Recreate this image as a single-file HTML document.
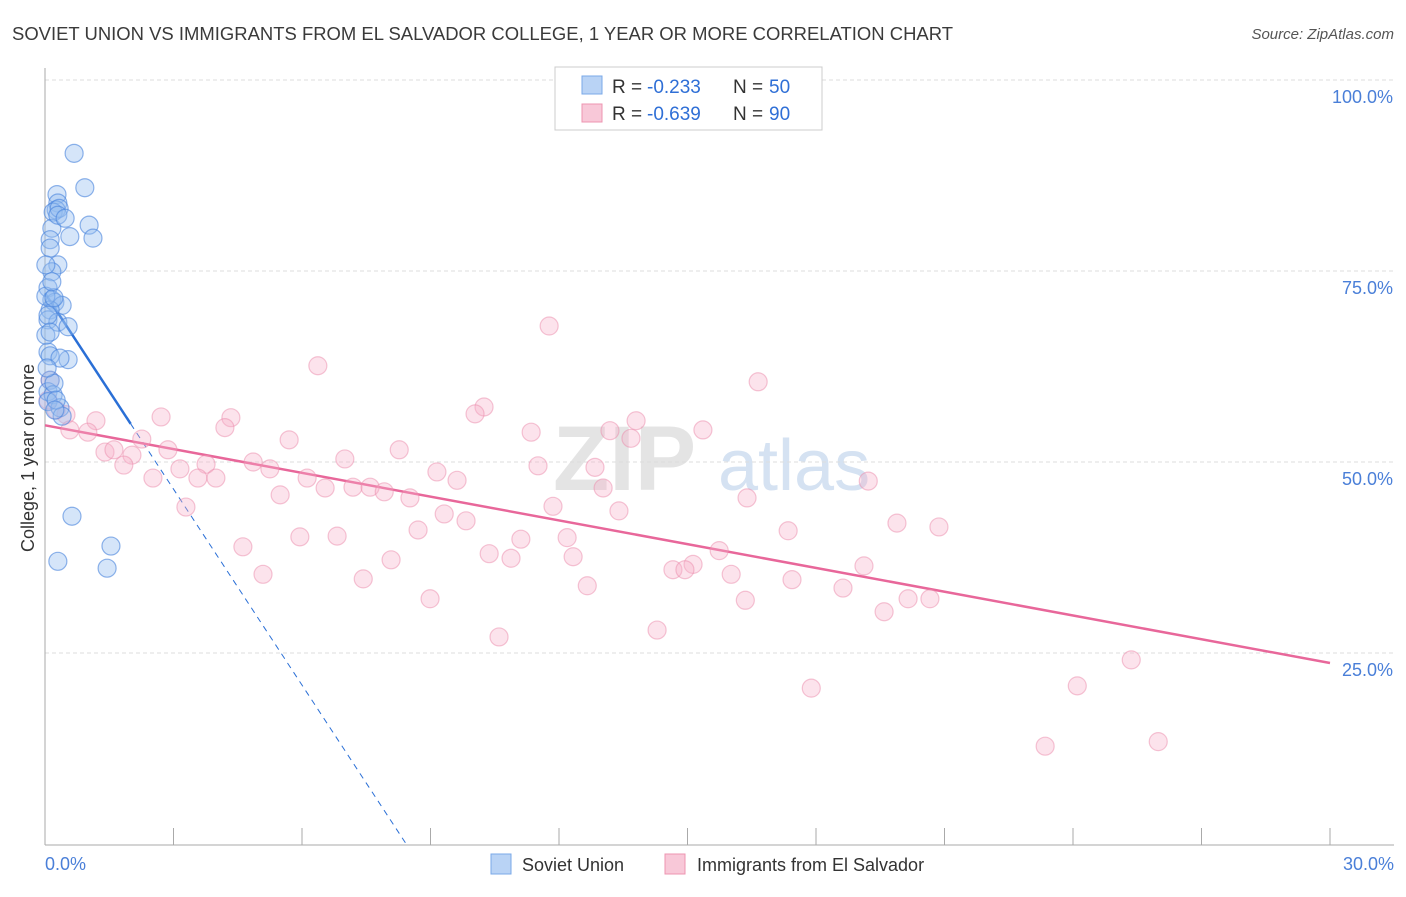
<!DOCTYPE html>
<html><head><meta charset="utf-8"><style>
body{margin:0;background:#fff;font-family:"Liberation Sans",sans-serif;}
svg text{font-family:"Liberation Sans",sans-serif;}
</style></head><body>
<svg id="chart" width="1406" height="892" xmlns="http://www.w3.org/2000/svg">
<text x="12" y="40" font-size="18" fill="#3a3a3a" textLength="941" lengthAdjust="spacingAndGlyphs">SOVIET UNION VS IMMIGRANTS FROM EL SALVADOR COLLEGE, 1 YEAR OR MORE CORRELATION CHART</text>
<text x="1394" y="39" font-size="15" fill="#555" text-anchor="end" font-style="italic">Source: ZipAtlas.com</text>
<g>
<text x="553" y="490" font-size="92" fill="#e4e4e4" font-family="Liberation Serif" font-weight="bold">ZIP</text>
<text x="718" y="490" font-size="72" fill="#d5e2f2">atlas</text>
</g>
<g id="grid"></g>
<g id="axes"></g>
<g id="trend"></g>
<g id="pts"></g>
<g>
<rect x="555" y="67" width="267" height="63" fill="#fff" stroke="#ccc"/>
<rect x="582" y="76" width="20" height="18" fill="#b9d3f5" stroke="#7aa8e8"/>
<rect x="582" y="104" width="20" height="18" fill="#f8c8d8" stroke="#ee94b0"/>
<text x="612" y="93" font-size="19" fill="#333">R = </text><text x="647" y="93" font-size="19" fill="#2f6fd6">-0.233</text>
<text x="733" y="93" font-size="19" fill="#333">N = </text><text x="769" y="93" font-size="19" fill="#2f6fd6">50</text>
<text x="612" y="120" font-size="19" fill="#333">R = </text><text x="647" y="120" font-size="19" fill="#2f6fd6">-0.639</text>
<text x="733" y="120" font-size="19" fill="#333">N = </text><text x="769" y="120" font-size="19" fill="#2f6fd6">90</text>
</g>
<g>
<rect x="491" y="854" width="20" height="20" fill="#b9d3f5" stroke="#7aa8e8"/>
<text x="522" y="871" font-size="18" fill="#333">Soviet Union</text>
<rect x="665" y="854" width="20" height="20" fill="#f8c8d8" stroke="#ee94b0"/>
<text x="697" y="871" font-size="18" fill="#333">Immigrants from El Salvador</text>
</g>
<text transform="translate(34,458) rotate(-90)" font-size="18" fill="#333" text-anchor="middle">College, 1 year or more</text>
</svg>
<script>
const sovietX=[0.68,0.93,0.28,0.30,0.26,0.19,0.33,1.03,0.16,0.58,1.12,0.12,0.12,0.30,0.16,0.07,0.16,0.23,0.40,0.12,0.07,0.30,0.54,0.07,0.12,0.54,0.35,0.12,0.07,0.19,0.07,0.35,0.40,0.63,1.54,0.30,1.45,0.02,0.21,0.02,0.07,0.02,0.16,0.21,0.26,0.12,0.05,0.23,0.30,0.47];
const sovietY=[90.4,85.9,85.0,83.9,83.0,82.7,83.2,81.0,80.6,79.5,79.3,79.1,78.0,75.8,74.9,72.8,71.2,70.9,70.5,69.9,68.6,68.3,67.7,64.4,63.9,63.4,63.6,60.7,59.2,58.8,57.9,57.1,56.0,42.9,39.0,37.0,36.1,71.7,71.5,75.8,69.2,66.6,73.6,60.3,58.1,67.0,62.3,56.8,82.3,81.9];
const salvX=[11.77,6.37,16.65,10.25,10.04,2.71,4.34,1.19,13.80,0.26,0.49,0.58,1.00,4.20,11.35,15.36,2.26,13.19,5.70,13.68,1.40,1.61,2.03,2.87,8.27,4.86,7.00,3.15,3.76,1.84,5.25,11.51,12.84,9.15,2.52,3.57,3.99,6.12,9.62,6.54,7.19,7.59,7.92,8.52,5.49,16.39,19.22,13.03,11.86,3.29,13.40,9.32,9.83,19.89,20.87,8.71,17.35,5.95,6.82,11.11,12.19,4.62,15.74,10.37,10.88,12.33,8.08,19.12,14.66,15.13,14.94,16.02,5.09,7.43,17.44,12.66,18.63,8.99,16.35,20.15,20.66,19.59,14.29,10.60,25.36,24.10,17.89,25.99,23.35,0.12,0.07];
const salvY=[67.8,62.6,60.5,57.2,56.3,55.9,55.8,55.4,55.4,56.8,56.2,54.2,53.9,54.5,53.9,54.2,53.0,54.1,52.9,53.1,51.3,51.6,50.9,51.6,51.6,50.0,50.4,49.1,49.7,49.6,49.1,49.5,49.3,48.7,47.9,47.9,47.9,47.9,47.6,46.6,46.7,46.7,46.1,45.3,45.7,45.3,47.5,46.6,44.2,44.1,43.6,43.2,42.3,42.0,41.5,41.1,41.0,40.2,40.3,39.9,40.1,38.9,38.4,38.0,37.4,37.6,37.2,36.4,35.9,36.6,35.9,35.3,35.3,34.7,34.6,33.8,33.5,32.1,31.9,32.1,32.1,30.4,28.0,27.1,24.1,20.7,20.4,13.4,12.8,60.7,58.1];
const yTicks=[25,50,75,100];
const yTickLabels=["25.0%","50.0%","75.0%","100.0%"];
const xTicks=[0,3,6,9,12,15,18,21,24,27,30];
const sovietTrend=[72.1,-8.55];
const salvTrend=[54.8,-1.037];

const NS="http://www.w3.org/2000/svg";
const X=v=>45+v/30*1285;
const Y=v=>844-v*7.64;
function mk(t,a,p){const e=document.createElementNS(NS,t);for(const k in a)e.setAttribute(k,a[k]);p.appendChild(e);return e;}
const grid=document.getElementById('grid'),axes=document.getElementById('axes'),trend=document.getElementById('trend'),pts=document.getElementById('pts');
yTicks.forEach((v,i)=>{
 const l=mk('line',{x1:45,x2:1394,y1:Y(v),y2:Y(v),stroke:'#ddd','stroke-dasharray':'4,3'},grid);
 
 
 const t=mk('text',{x:1393,y:Y(v)+23,'font-size':18,fill:'#4a7fd8','text-anchor':'end'},axes);
 t.textContent=yTickLabels[i];
 
 
});
mk('line',{x1:45,x2:45,y1:68,y2:845,stroke:'#aaa'},axes);
mk('line',{x1:45,x2:1394,y1:845,y2:845,stroke:'#aaa'},axes);
xTicks.forEach(v=>{
 const l=mk('line',{x1:X(v),x2:X(v),y1:828,y2:845,stroke:'#aaa'},axes);
 
 
});
const x0=mk('text',{x:45,y:870,'font-size':18,fill:'#4a7fd8'},axes);x0.textContent='0.0%';


const x1=mk('text',{x:1394,y:870,'font-size':18,fill:'#4a7fd8','text-anchor':'end'},axes);x1.textContent='30.0%';



salvX.forEach((v,i)=>{
 const c=mk('circle',{cx:X(v),cy:Y(salvY[i]),r:9,fill:'rgba(246,175,200,0.35)',stroke:'rgba(236,140,172,0.5)','stroke-width':1.2},pts);
 
 
});
sovietX.forEach((v,i)=>{
 const c=mk('circle',{cx:X(v),cy:Y(sovietY[i]),r:9,fill:'rgba(150,190,240,0.4)',stroke:'rgba(70,130,220,0.6)','stroke-width':1.2},pts);
 
 
});
const sEnd=2.0, sZero=-sovietTrend[0]/sovietTrend[1];
const t1=mk('line',{x1:X(0),y1:Y(sovietTrend[0]),x2:X(sEnd),y2:Y(sovietTrend[0]+sovietTrend[1]*sEnd),stroke:'#2a6fd6','stroke-width':2.5},trend);


const t2=mk('line',{x1:X(sEnd),y1:Y(sovietTrend[0]+sovietTrend[1]*sEnd),x2:X(sZero),y2:Y(0),stroke:'#2a6fd6','stroke-width':1,'stroke-dasharray':'6,5'},trend);


const t3=mk('line',{x1:X(0),y1:Y(salvTrend[0]),x2:X(30),y2:Y(salvTrend[0]+salvTrend[1]*30),stroke:'#e8679a','stroke-width':2.5},trend);


</script>
</body></html>
